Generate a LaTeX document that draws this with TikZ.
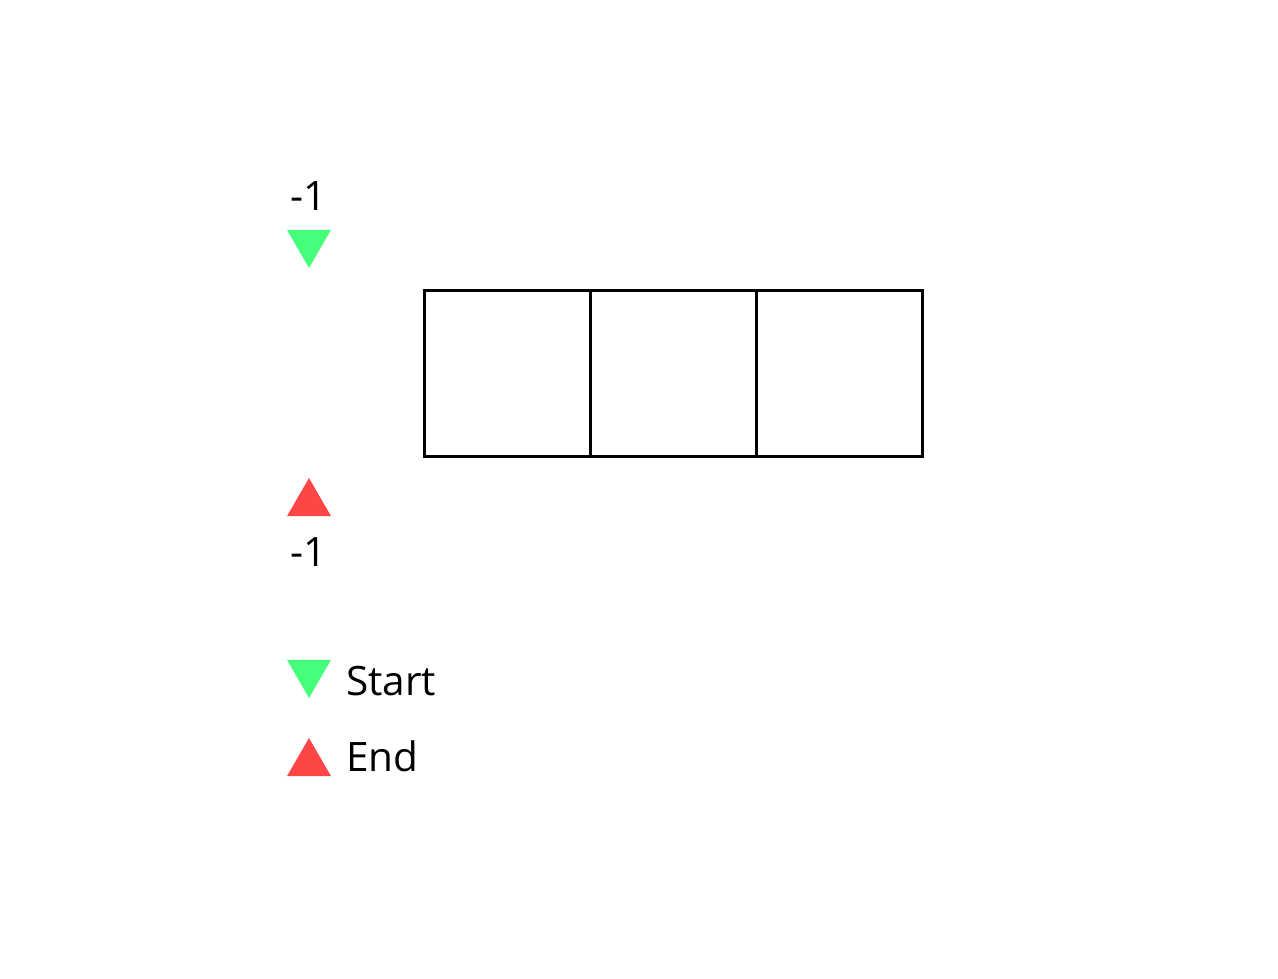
\documentclass[tikz,border=0pt]{standalone}
\usepackage{fontspec}
\setmainfont{Open Sans}
\usetikzlibrary{shapes.geometric,positioning}
\definecolor{startgreen}{RGB}{70,255,122}
\definecolor{endred}{RGB}{255,70,70}

\begin{document}
\begin{tikzpicture}
  [x=1pt,y=-1pt,
   cellN/.style={rectangle,draw,line width=3pt,minimum size=166pt,inner sep=0pt,outer sep=0pt},
   startM/.style={regular polygon,regular polygon sides=3,shape border rotate=180,
                  fill=startgreen,minimum size=50.8pt,inner sep=0pt},
   endM/.style={regular polygon,regular polygon sides=3,
                fill=endred,minimum size=50.8pt,inner sep=0pt},
   labelT/.style={font=\fontsize{40.5}{48}\selectfont,inner sep=0pt},
   node distance=0pt]

  \useasboundingbox (0,0) rectangle (1278,978);

  % the three cells
  \node[cellN] (c1) at (507,373) {};
  \node[cellN] (c2) [right=of c1] {};
  \node[cellN] (c3) [right=of c2] {};

  % start and end markers
  \path (309,210)   node[labelT,anchor=base] (s) {-1}
        (309,242.6) node[startM] (sm) {};
  \path (309,503.4) node[endM] (em) {}
        (309,566)   node[labelT,anchor=base] (e) {-1};

  % legend
  \node[startM] (ls) at (309,672.6) {};
  \node[labelT,anchor=base west] (lst) at (346,695) {Start};
  \node[endM] (le) at (309,763.4) {};
  \node[labelT,anchor=base west] (let) at (346,771) {End};

\end{tikzpicture}
\end{document}
